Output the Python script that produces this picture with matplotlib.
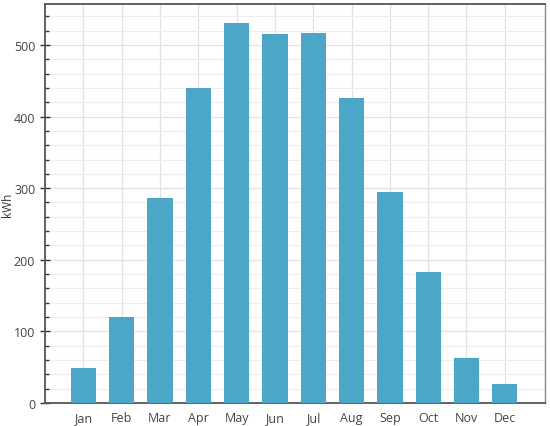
import numpy as np
import matplotlib
matplotlib.use('Agg')
import matplotlib.pyplot as plt
from matplotlib.ticker import MultipleLocator

# Données mensuelles (kWh)
months = ['Jan', 'Feb', 'Mar', 'Apr', 'May', 'Jun', 'Jul', 'Aug', 'Sep', 'Oct', 'Nov', 'Dec']
energy = [49, 120, 286, 440, 531, 515, 516, 426, 295, 183, 63, 27]

plt.rcParams['font.family'] = ['Open Sans', 'DejaVu Sans']

fig = plt.figure(figsize=(5.5, 4.27), dpi=100)
ax = fig.add_axes([0.0818, 0.0539, 0.9092, 0.9341])

x = np.arange(len(months))
ax.bar(x, energy, width=0.66, color='#4ba6c8', zorder=3)

ax.set_xlim(-1, 12.05)
ax.set_ylim(0, 557)
ax.set_xticks(x)
ax.set_xticklabels(months)
ax.yaxis.set_major_locator(MultipleLocator(100))
ax.yaxis.set_minor_locator(MultipleLocator(20))

ax.grid(True, which='major', color='#e2e2e2', linewidth=0.9, zorder=0)
ax.grid(True, which='minor', axis='y', color='#ededed', linewidth=0.8, zorder=0)
ax.set_axisbelow(True)

ax.tick_params(axis='x', direction='in', length=4, width=1, color='#333333',
               labelsize=9, labelcolor='#444444', pad=6)
ax.tick_params(axis='y', which='major', direction='inout', length=7, width=1,
               color='#333333', labelsize=9, labelcolor='#444444')
ax.tick_params(axis='y', which='minor', direction='in', length=3, width=1, color='#333333')

for side in ['left', 'bottom', 'top']:
    ax.spines[side].set_color('#555555')
    ax.spines[side].set_linewidth(1.3)
ax.spines['right'].set_color('#888888')
ax.spines['right'].set_linewidth(1.0)

ax.set_ylabel('kWh', fontsize=8.5, color='#333333')
ax.yaxis.set_label_coords(-0.062, 0.5)

fig.savefig('out.png', dpi=100)
